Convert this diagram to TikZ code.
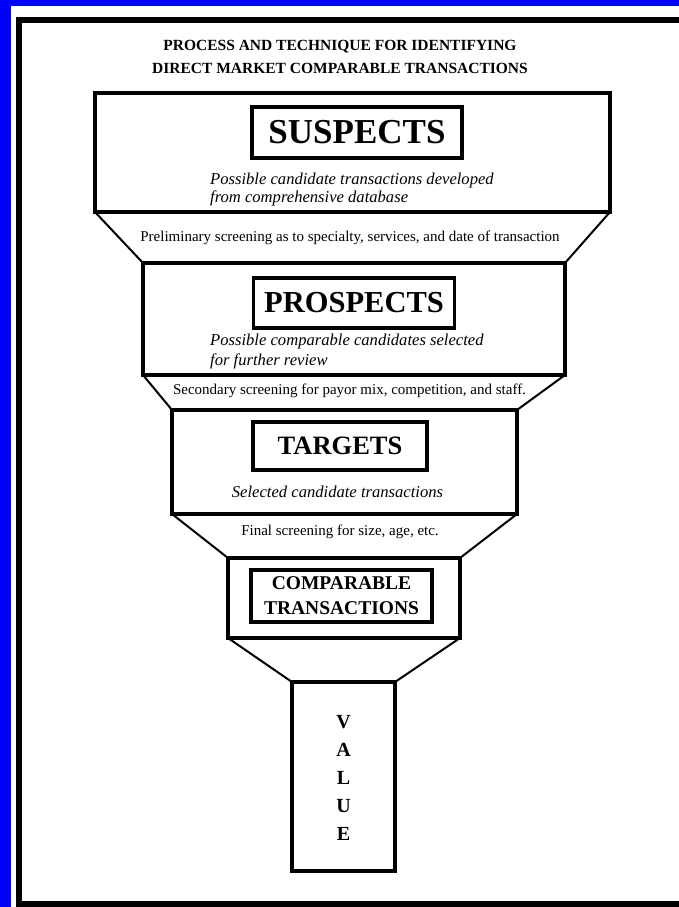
\documentclass[tikz,border=0pt]{standalone}
\usepackage{fontspec}
\setmainfont{Liberation Serif}
\definecolor{bgblue}{RGB}{0,0,255}
\begin{document}
\begin{tikzpicture}[x=1pt,y=-1pt]
\tikzset{
  stage/.style={draw, line width=4pt, inner sep=0pt, outer sep=0pt},
  labelbox/.style={draw, line width=3.5pt, inner sep=0pt, outer sep=0pt, align=center},
  side/.style={line width=2pt},
  desc/.style={font=\fontsize{16.6}{18}\selectfont\itshape, align=left, inner sep=0pt, anchor=west},
  screen/.style={font=\fontsize{15}{17}\selectfont, inner sep=0pt},
  frame/.style={line width=6pt}
}
\useasboundingbox (0,0) rectangle (679,907);
\fill[bgblue] (0,0) rectangle (679,907);
\fill[white] (11,6) rectangle (679,907);
\draw[frame] (19,907) |- (679,20);
\draw[frame] (16,904) -- (679,904);

% title
\node[font=\fontsize{15.5}{23}\selectfont\bfseries, align=center, inner sep=0pt] (title) at (340,57)
  {PROCESS AND TECHNIQUE FOR IDENTIFYING\\DIRECT MARKET COMPARABLE TRANSACTIONS};

% funnel stages
\node[stage, minimum width=515pt, minimum height=119pt] (sus) at (352.5,152.5) {};
\node[stage, minimum width=422pt, minimum height=112pt] (pro) at (354,319) {};
\node[stage, minimum width=345pt, minimum height=104pt] (tar) at (344.5,462) {};
\node[stage, minimum width=232pt, minimum height=80pt] (com) at (344,598) {};
\node[stage, minimum width=103pt, minimum height=189pt] (val) at (343.5,776.5) {};

% funnel sides
\draw[side] (sus.south west) -- (pro.north west);
\draw[side] (sus.south east) -- (pro.north east);
\draw[side] (pro.south west) -- (tar.north west);
\draw[side] (pro.south east) -- (tar.north east);
\draw[side] (tar.south west) -- (com.north west);
\draw[side] (tar.south east) -- (com.north east);
\draw[side] (com.south west) -- (val.north west);
\draw[side] (com.south east) -- (val.north east);

% label boxes
\node[labelbox, minimum width=210pt, minimum height=51pt, font=\fontsize{35}{40}\selectfont\bfseries] (susl) at (357,132.5) {SUSPECTS};
\node[labelbox, minimum width=201pt, minimum height=50pt, font=\fontsize{30.5}{34}\selectfont\bfseries] (prol) at (354,303) {PROSPECTS};
\node[labelbox, minimum width=174pt, minimum height=48pt, font=\fontsize{26.5}{30}\selectfont\bfseries] (tarl) at (340,446) {TARGETS};
\node[labelbox, minimum width=181pt, minimum height=52pt, font=\fontsize{19.5}{25}\selectfont\bfseries] (coml) at (341.5,596) {COMPARABLE\\TRANSACTIONS};

% descriptions
\node[desc] (susd) at (210,190) {Possible candidate transactions developed\\from comprehensive database};
\node[desc, font=\fontsize{16.6}{20}\selectfont\itshape] (prod) at (210,352) {Possible comparable candidates selected\\for further review};
\node[screen, font=\fontsize{16.6}{18}\selectfont\itshape] (tard) at (337.5,492) {Selected candidate transactions};

% screening texts
\node[screen] (scr1) at (350,238) {Preliminary screening as to specialty, services, and date of transaction};
\node[screen] (scr2) at (349.5,391) {Secondary screening for payor mix, competition, and staff.};
\node[screen] (scr3) at (340,532) {Final screening for size, age, etc.};

% value
\node[font=\fontsize{20}{28}\selectfont\bfseries, align=center, inner sep=0pt] (vall) at (343.5,778) {V\\A\\L\\U\\E};
\end{tikzpicture}
\end{document}
